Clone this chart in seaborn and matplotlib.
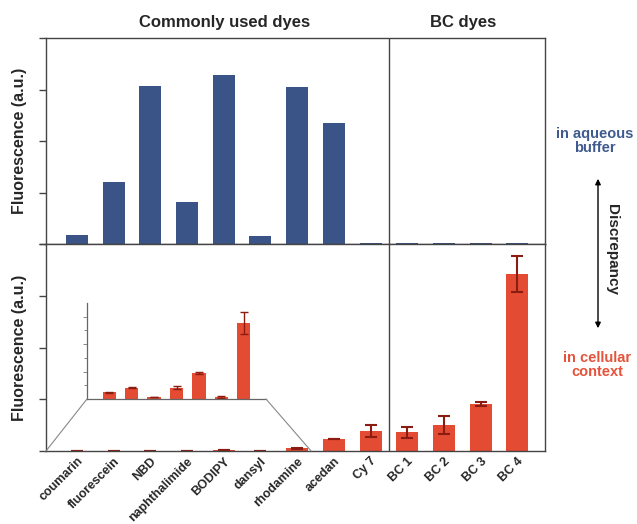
import numpy as np
import pandas as pd
import matplotlib
matplotlib.use("Agg")
from matplotlib import pyplot as plt
from matplotlib.patches import ConnectionPatch, FancyArrowPatch
import seaborn as sns

sns.set_style("ticks")
plt.rcParams['font.family'] = ['Liberation Sans', 'DejaVu Sans']

# %% data (arbitrary units)

dyes = ['coumarin', 'fluorescein', 'NBD', 'naphthalimide', 'BODIPY', 'dansyl',
        'rhodamine', 'acedan', 'Cy 7', 'BC 1', 'BC 2', 'BC 3', 'BC 4']
buffer_signal = [0.17, 1.20, 3.06, 0.81, 3.29, 0.15, 3.05, 2.34, 0.02,
                 0.01, 0.01, 0.01, 0.01]
cell_signal = [0.004, 0.007, 0.001, 0.007, 0.017, 0.001, 0.05, 0.23, 0.39,
               0.36, 0.50, 0.91, 3.42]
cell_err = [0.0, 0.0, 0.0, 0.0, 0.0, 0.0, 0.007, 0.0, 0.11,
            0.10, 0.17, 0.04, 0.34]

# zoomed inset for the first seven dyes
inset_dyes = dyes[:7]
inset_signal = [0.48, 0.82, 0.15, 0.82, 1.91, 0.15, 5.53]
inset_err = [0.03, 0.03, 0.03, 0.10, 0.07, 0.10, 0.82]

blue = '#3b5487'
red = '#e34b33'
dark_red = '#8a1c12'
spine_c = '#444444'

df_buf = pd.DataFrame({'dye': dyes, 'value': buffer_signal})
df_cell = pd.DataFrame({'dye': dyes, 'value': cell_signal, 'err': cell_err})
df_in = pd.DataFrame({'dye': inset_dyes, 'value': inset_signal, 'err': inset_err})

# %% layout

W, H = 637, 524
fig = plt.figure(figsize=(W / 100, H / 100), dpi=100)

def box(x0, y0, x1, y1):
    # pixel box (top-left origin) -> figure fraction
    return [x0 / W, 1 - y1 / H, (x1 - x0) / W, (y1 - y0) / H]

ax_top = fig.add_axes(box(46, 38, 545, 244))
ax_bot = fig.add_axes(box(46, 244, 545, 451))
ax_in = fig.add_axes(box(87, 303, 266, 399))

# %% bars

sns.barplot(data=df_buf, x='dye', y='value', order=dyes, color=blue,
            width=0.6, linewidth=0, saturation=1, ax=ax_top)
sns.barplot(data=df_cell, x='dye', y='value', order=dyes, color=red,
            width=0.6, linewidth=0, saturation=1, ax=ax_bot)
pos = np.arange(len(dyes))
ax_bot.errorbar(pos, df_cell['value'], yerr=df_cell['err'], fmt='none',
                ecolor=dark_red, elinewidth=1.5, capsize=4, capthick=1.5)

sns.barplot(data=df_in, x='dye', y='value', order=inset_dyes, color=red,
            width=0.6, linewidth=0, saturation=1, ax=ax_in)
ax_in.errorbar(np.arange(len(inset_dyes)), df_in['value'], yerr=df_in['err'],
               fmt='none', ecolor=dark_red, elinewidth=1, capsize=3, capthick=1)

# %% axes styling

for ax in (ax_top, ax_bot):
    ax.set_xlim(-0.84, 12.75)
    ax.set_ylim(0, 4)
    ax.set_yticks(range(5))
    ax.set_yticklabels([])
    ax.tick_params(axis='y', direction='out', length=5, width=1, color=spine_c)
    ax.tick_params(axis='x', length=0)
    for s in ax.spines.values():
        s.set_visible(True)
        s.set_color(spine_c)
        s.set_linewidth(1)
    ax.axvline(8.5, color=spine_c, lw=1)
    ax.set_ylabel('Fluorescence (a.u.)', fontsize=11.5, fontweight='bold',
                  labelpad=5)
    ax.set_xlabel('')

ax_top.set_xticklabels([])
ax_bot.set_xticks(pos)
ax_bot.set_xticklabels(dyes, rotation=45, ha='right', rotation_mode='anchor',
                       fontsize=9, fontweight='bold')
ax_bot.tick_params(axis='x', pad=3)

ax_in.set_xlim(-1, 7)
ax_in.set_ylim(0, 7)
ax_in.set_yticks([2, 4, 6])
ax_in.set_yticks([1, 3, 5], minor=True)
ax_in.set_yticklabels([])
ax_in.set_xticks([])
ax_in.set_xlabel('')
ax_in.set_ylabel('')
ax_in.patch.set_alpha(0)
ax_in.tick_params(axis='y', which='major', direction='out', length=3,
                  width=0.6, color='#777777')
ax_in.tick_params(axis='y', which='minor', direction='out', length=2,
                  width=0.6, color='#777777')
for side in ('top', 'right'):
    ax_in.spines[side].set_visible(False)
for side in ('left', 'bottom'):
    ax_in.spines[side].set_color('#666666')
    ax_in.spines[side].set_linewidth(0.9)

# zoom lines from inset to main axis
for xa, xb in ((0, -0.84), (1, 6.38)):
    con = ConnectionPatch(xyA=(xa, 0), coordsA=ax_in.transAxes,
                          xyB=(xb, 0), coordsB=ax_bot.transData,
                          color='#888888', lw=0.8)
    fig.add_artist(con)

# %% annotations

fig.text(225 / W, 1 - 22 / H, 'Commonly used dyes', ha='center', va='center',
         fontsize=12, fontweight='bold')
fig.text(463 / W, 1 - 22 / H, 'BC dyes', ha='center', va='center',
         fontsize=12, fontweight='bold')

fig.text(595 / W, 1 - 141 / H, 'in aqueous\nbuffer', ha='center', va='center',
         fontsize=10.5, fontweight='bold', color='#3e5a8e', linespacing=1.05)
fig.text(597 / W, 1 - 365 / H, 'in cellular\ncontext', ha='center', va='center',
         fontsize=10.5, fontweight='bold', color='#e5533b', linespacing=1.05)

fig.add_artist(FancyArrowPatch(
    (598 / W, 1 - 176 / H), (598 / W, 1 - 331 / H),
    transform=fig.transFigure, arrowstyle='<|-|>', mutation_scale=8,
    color='black', lw=1))
fig.text(612 / W, 1 - 249 / H, 'Discrepancy', ha='center', va='center',
         rotation=-90, fontsize=11, fontweight='bold')

plt.savefig('out.png', dpi=100)
